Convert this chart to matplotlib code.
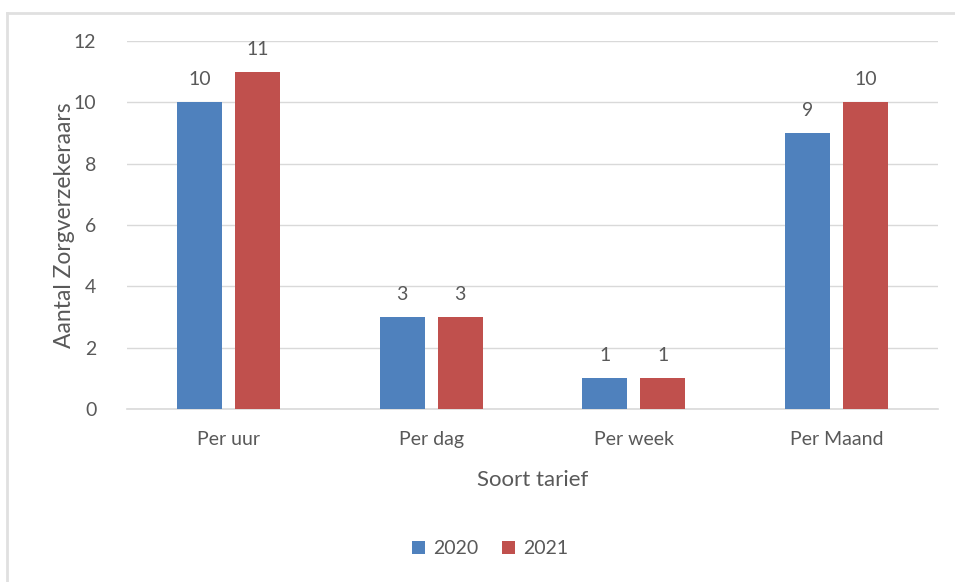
import numpy as np
import matplotlib
matplotlib.use("Agg")
import matplotlib.pyplot as plt
from matplotlib.lines import Line2D

categories = ["Per uur", "Per dag", "Per week", "Per Maand"]
years = ["2020", "2021"]
values_2020 = [10, 3, 1, 9]
values_2021 = [11, 3, 1, 10]
yticks = [0, 2, 4, 6, 8, 10, 12]

plt.rcParams["font.family"] = ["Lato", "DejaVu Sans"]
text_color = "#595959"

fig = plt.figure(figsize=(9.55, 5.82), dpi=100)
ax = fig.add_axes([0.133, 0.2973, 0.849, 0.6323])

x = np.arange(len(categories))
width = 0.222
offset = 0.143
bars1 = ax.bar(x - offset, values_2020, width, color="#4F81BD", label=years[0], zorder=3)
bars2 = ax.bar(x + offset, values_2021, width, color="#C0504D", label=years[1], zorder=3)

for bars in (bars1, bars2):
    for b in bars:
        ax.annotate(f"{b.get_height():g}", (b.get_x() + b.get_width() / 2, b.get_height()),
                    xytext=(0, 10), textcoords="offset points", ha="center", va="bottom",
                    fontsize=14, color=text_color)

ax.set_xlim(-0.5, len(categories) - 0.5)
ax.set_ylim(0, 12)
ax.set_yticks(yticks)
ax.set_xticks(x)
ax.set_xticklabels(categories)
ax.tick_params(axis="both", length=0, labelsize=14, labelcolor=text_color)
ax.tick_params(axis="y", pad=22)
ax.tick_params(axis="x", pad=16)
ax.grid(axis="y", color="#d9d9d9", linewidth=1, zorder=0)
for s in ["top", "right", "left"]:
    ax.spines[s].set_visible(False)
ax.spines["bottom"].set_color("#d9d9d9")
ax.spines["bottom"].set_linewidth(1.2)

ax.set_xlabel("Soort tarief", fontsize=16, color=text_color, labelpad=16)
ax.set_ylabel("Aantal Zorgverzekeraars", fontsize=16.5, color=text_color, labelpad=-1)

fig.legend(handles=[bars1, bars2], labels=years, loc="center", bbox_to_anchor=(0.513, 0.057),
           ncol=2, frameon=False, fontsize=14, handlelength=0.7, handleheight=0.7,
           handletextpad=0.4, columnspacing=1.2, labelcolor=text_color)

# chart frame (only left and top edges visible in the crop)
fig.add_artist(Line2D([0.007, 0.007], [0, 0.978], transform=fig.transFigure, color="#e0e0e0", lw=2))
fig.add_artist(Line2D([0.007, 1.0], [0.978, 0.978], transform=fig.transFigure, color="#e0e0e0", lw=2))

fig.savefig("out.png", dpi=100)
